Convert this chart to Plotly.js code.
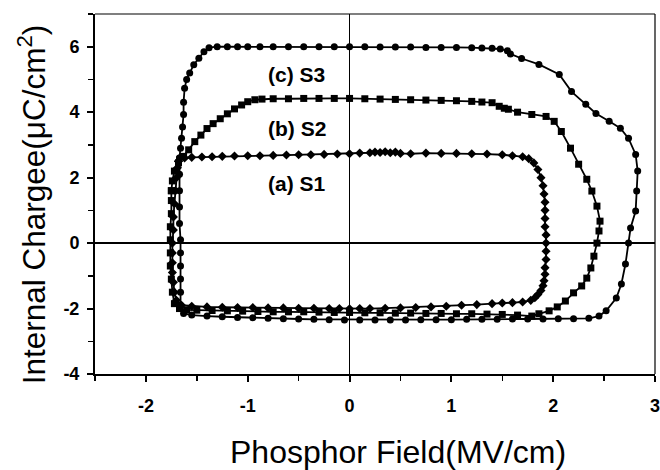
<!DOCTYPE html>
<html>
<head>
<meta charset="utf-8">
<script src="https://cdn.plot.ly/plotly-3.0.1.min.js"></script>
<style>html,body{margin:0;padding:0;background:#fff;}#chart{width:660px;height:470px;}</style>
</head>
<body>
<div id="chart"></div>
<script>
// S1 (diamonds): loop traced top -> right -> bottom -> left
const s1_x = [-1.68,-1.62,-1.55,-1.45,-1.35,-1.25,-1.13,-1.0,-0.88,-0.75,-0.62,-0.5,-0.38,-0.25,-0.12,0.0,0.1,0.2,0.25,0.3,0.35,0.4,0.45,0.5,0.6,0.75,0.9,1.05,1.2,1.35,1.5,1.6,1.7,1.76,
  1.81,1.85,1.88,1.9,1.91,1.92,1.92,1.92,1.92,1.93,1.93,1.93,1.93,1.92,1.92,1.91,1.9,1.88,1.85,1.82,1.78,
  1.7,1.6,1.5,1.4,1.25,1.1,0.95,0.8,0.65,0.5,0.35,0.2,0.1,0.0,-0.1,-0.2,-0.35,-0.5,-0.65,-0.8,-0.95,-1.1,-1.25,-1.4,-1.55,-1.65,
  -1.7,-1.72,-1.73,-1.74,-1.74,-1.74,-1.74,-1.73,-1.73,-1.72,-1.71,-1.7,-1.69,-1.68];
const s1_y = [2.5,2.6,2.62,2.63,2.64,2.65,2.66,2.67,2.67,2.68,2.69,2.7,2.7,2.71,2.72,2.73,2.75,2.76,2.78,2.77,2.79,2.76,2.78,2.74,2.73,2.75,2.74,2.74,2.73,2.72,2.7,2.67,2.64,2.58,
  2.45,2.25,2.0,1.75,1.5,1.25,1.0,0.75,0.5,0.25,0.0,-0.25,-0.5,-0.75,-0.95,-1.15,-1.3,-1.45,-1.57,-1.67,-1.75,
  -1.8,-1.82,-1.83,-1.85,-1.88,-1.9,-1.93,-1.95,-1.97,-1.98,-1.99,-2.0,-2.0,-2.01,-2.0,-2.0,-1.99,-1.99,-1.98,-1.98,-1.97,-1.97,-1.96,-1.95,-1.93,-1.9,
  -1.75,-1.5,-1.2,-0.9,-0.6,-0.3,0.0,0.4,0.8,1.2,1.6,2.0,2.3,2.5];

// S2 (squares)
const s2_x = [-1.75,-1.74,-1.72,-1.68,-1.63,-1.58,-1.52,-1.46,-1.4,-1.34,-1.27,-1.2,-1.13,-1.06,-1.0,-0.93,-0.86,
  -0.75,-0.6,-0.45,-0.3,-0.15,0.0,0.15,0.3,0.45,0.6,0.75,0.9,1.05,1.2,1.3,1.4,1.47,1.52,1.56,
  1.65,1.79,1.93,2.01,2.08,2.17,2.25,2.33,2.38,2.43,2.46,2.45,2.43,2.40,2.37,2.33,2.28,2.20,2.12,2.04,1.96,1.86,1.79,
  1.65,1.5,1.35,1.2,1.05,0.9,0.75,0.6,0.45,0.3,0.15,0.0,-0.15,-0.3,-0.45,-0.6,-0.75,-0.9,-1.05,-1.2,-1.35,-1.5,-1.6,-1.67,
  -1.72,-1.74,-1.75,-1.76,-1.76,-1.76,-1.76,-1.75,-1.75,-1.75];
const s2_y = [1.6,1.9,2.2,2.45,2.65,2.85,3.1,3.3,3.5,3.65,3.8,3.95,4.1,4.22,4.32,4.38,4.4,
  4.41,4.41,4.42,4.42,4.42,4.42,4.41,4.4,4.39,4.38,4.37,4.36,4.35,4.33,4.31,4.29,4.18,4.12,4.09,
  4.0,3.93,3.87,3.72,3.41,2.9,2.41,1.95,1.59,1.13,0.67,0.37,0.0,-0.4,-0.76,-1.07,-1.31,-1.52,-1.77,-1.95,-2.07,-2.16,-2.23,
  -2.2,-2.18,-2.17,-2.16,-2.16,-2.15,-2.15,-2.14,-2.14,-2.13,-2.13,-2.12,-2.12,-2.11,-2.1,-2.1,-2.1,-2.09,-2.08,-2.07,-2.06,-2.05,-2.04,-2.0,
  -1.85,-1.5,-1.1,-0.7,-0.3,0.1,0.5,0.9,1.3,1.6];

// S3 (circles)
const s3_x = [-1.67,-1.66,-1.65,-1.64,-1.63,-1.63,-1.62,-1.6,-1.57,-1.53,-1.48,-1.43,-1.38,
  -1.3,-1.2,-1.1,-1.0,-0.88,-0.75,-0.6,-0.45,-0.3,-0.15,0.0,0.15,0.3,0.45,0.6,0.75,0.9,1.05,1.2,1.3,1.4,1.48,1.55,1.58,
  1.69,1.86,2.06,2.18,2.32,2.42,2.55,2.66,2.74,2.81,2.83,2.82,2.81,2.76,2.74,2.71,2.67,2.62,2.52,2.45,
  2.35,2.2,2.05,1.9,1.75,1.6,1.45,1.3,1.15,1.0,0.85,0.7,0.55,0.4,0.25,0.1,-0.05,-0.2,-0.35,-0.5,-0.65,-0.8,-0.95,-1.1,-1.25,-1.4,-1.55,-1.63,
  -1.66,-1.66,-1.66,-1.66,-1.66,-1.66,-1.67,-1.67,-1.67,-1.67,-1.67];
const s3_y = [2.6,2.9,3.2,3.55,3.93,4.3,4.73,5.0,5.2,5.45,5.65,5.85,5.97,
  6.0,6.0,6.0,6.0,6.0,6.0,6.0,6.0,6.0,6.0,6.0,6.0,5.99,5.99,5.99,5.98,5.98,5.98,5.97,5.96,5.95,5.93,5.88,5.78,
  5.64,5.46,5.15,4.63,4.24,3.96,3.72,3.51,3.2,2.71,2.2,1.59,0.98,0.46,0.0,-0.64,-1.25,-1.68,-2.07,-2.23,
  -2.3,-2.31,-2.31,-2.32,-2.32,-2.32,-2.33,-2.33,-2.33,-2.34,-2.34,-2.34,-2.35,-2.35,-2.35,-2.35,-2.35,-2.34,-2.33,-2.32,-2.31,-2.3,-2.28,-2.27,-2.25,-2.23,-2.2,-2.15,
  -1.9,-1.5,-1.1,-0.7,-0.3,0.1,0.6,1.1,1.6,2.1,2.6];

const labels = ["(c) S3", "(b) S2", "(a) S1"];
const label_x = [-0.52, -0.52, -0.52];
const label_y = [5.15, 3.5, 1.82];

const xTicks = [-2, -1, 0, 1, 2, 3];
const yTicks = [-4, -2, 0, 2, 4, 6];
const xTitle = 'Phosphor Field(MV/cm)';
const yTitle = 'Internal Chargee(\u03BCC/cm<sup>2</sup>)';

const font = "Liberation Sans, Arial, sans-serif";
function series(x, y, sym) {
  return {x: x, y: y, type: 'scatter', mode: 'lines+markers',
    line: {color: '#000', width: 1.8},
    marker: {symbol: sym, size: 7, color: '#000'},
    showlegend: false, hoverinfo: 'skip'};
}
const data = [series(s1_x, s1_y, 'diamond'), series(s2_x, s2_y, 'square'), series(s3_x, s3_y, 'circle')];

const annots = labels.map((t, i) => ({
  x: label_x[i], y: label_y[i], xref: 'x', yref: 'y', text: t, showarrow: false,
  font: {family: font, size: 21, weight: 'bold', color: '#000'}
}));
annots.push({xref: 'paper', yref: 'paper', x: 0.541, y: -0.218, xanchor: 'center', yanchor: 'middle',
  text: xTitle, showarrow: false, font: {family: font, size: 32, color: '#000'}});
annots.push({xref: 'paper', yref: 'paper', x: -0.112, y: 0.472, xanchor: 'center', yanchor: 'middle',
  textangle: -90, text: yTitle, showarrow: false, font: {family: font, size: 31.5, color: '#000'}});

const layout = {
  width: 660, height: 470,
  margin: {l: 95, r: 5, t: 14, b: 96},
  paper_bgcolor: '#fff', plot_bgcolor: '#fff',
  font: {family: font, color: '#000'},
  xaxis: {
    range: [-2.5, 3], tickmode: 'array', tickvals: xTicks, ticktext: xTicks.map(String),
    ticks: 'outside', ticklen: 6, tickwidth: 2, tickcolor: '#000',
    minor: {dtick: 0.5, tick0: 0, ticks: 'outside', ticklen: 5, tickwidth: 1.5, tickcolor: '#000'},
    showline: true, linewidth: 2, linecolor: '#000', mirror: false,
    showgrid: false, zeroline: true, zerolinecolor: '#000', zerolinewidth: 1.8,
    tickfont: {family: font, size: 18, weight: 'bold'}, ticklabelstandoff: 8,
    ticklabeloverflow: 'allow'
  },
  yaxis: {
    range: [-4, 7], tickmode: 'array', tickvals: yTicks, ticktext: yTicks.map(String),
    ticks: 'outside', ticklen: 6, tickwidth: 2, tickcolor: '#000',
    minor: {dtick: 1, tick0: 0, ticks: 'outside', ticklen: 5, tickwidth: 1.5, tickcolor: '#000'},
    showline: true, linewidth: 2, linecolor: '#000', mirror: false,
    showgrid: false, zeroline: true, zerolinecolor: '#000', zerolinewidth: 1.8,
    tickfont: {family: font, size: 18, weight: 'bold'}, ticklabelstandoff: 4,
    ticklabeloverflow: 'allow'
  },
  shapes: [
    {type: 'line', xref: 'paper', yref: 'paper', x0: 0, x1: 1, y0: 1, y1: 1, line: {color: '#000', width: 1.2}},
    {type: 'line', xref: 'paper', yref: 'paper', x0: 1, x1: 1, y0: 0, y1: 1, line: {color: '#000', width: 1.2}}
  ],
  annotations: annots
};
Plotly.newPlot('chart', data, layout, {displayModeBar: false, staticPlot: true});
</script>
</body>
</html>
